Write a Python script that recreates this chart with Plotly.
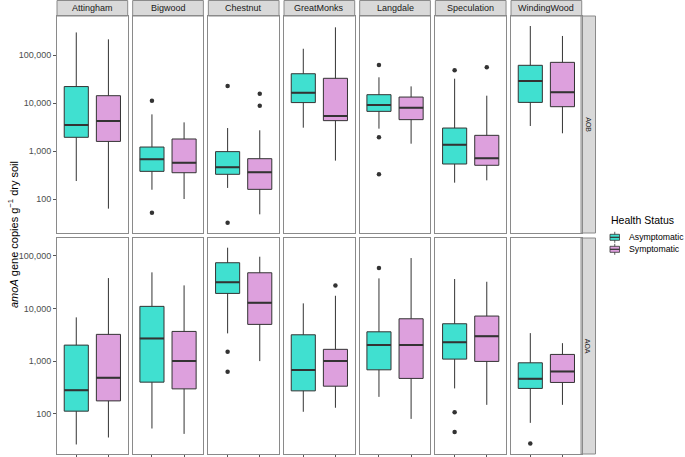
import plotly.graph_objects as go

W, H = 685, 457

sites = ["Attingham", "Bigwood", "Chestnut", "GreatMonks", "Langdale", "Speculation", "WindingWood"]
groups = ["AOB", "AOA"]
status = ["Asymptomatic", "Symptomatic"]
tick_vals = [100, 1000, 10000, 100000]
tick_text = ["100", "1,000", "10,000", "100,000"]

# AOB, Asymptomatic
aob_asym_low = [237, 156, 170, 3060, 2920, 219, 3320]
aob_asym_q1 = [1930, 377, 327, 10200, 6700, 536, 10300]
aob_asym_med = [3500, 670, 457, 16400, 9090, 1355, 28700]
aob_asym_q3 = [22000, 1210, 970, 40700, 14900, 3010, 61000]
aob_asym_high = [295000, 5800, 3010, 135000, 34300, 32100, 402000]
aob_asym_out = [[], [11200, 52], [22600, 32], [], [61900, 1930, 327], [48000], []]

# AOB, Symptomatic
aob_sym_low = [63, 100, 48, 630, 1420, 245, 2340]
aob_sym_q1 = [1585, 353, 159, 4290, 4500, 504, 8380]
aob_sym_med = [4220, 571, 360, 5360, 8000, 703, 16700]
aob_sym_q3 = [14200, 1780, 692, 32700, 13300, 2120, 70300]
aob_sym_high = [212000, 3950, 2700, 377000, 22200, 14200, 249000]
aob_sym_out = [[], [], [15600, 8800], [], [], [55300], []]

# AOA, Asymptomatic
aoa_asym_low = [26.4, 53, 3370, 110, 211, 305, 67.8]
aoa_asym_q1 = [113, 401, 19300, 274, 687, 1096, 305]
aoa_asym_med = [283, 2710, 31300, 678, 2020, 2280, 463]
aoa_asym_q3 = [2020, 10960, 73600, 3170, 3610, 5130, 933]
aoa_asym_high = [6780, 48400, 142000, 12500, 37200, 36200, 3410]
aoa_asym_out = [[], [], [1510, 631], [], [58500], [108, 45.7], [27.5]]

# AOA, Symptomatic
aoa_sym_low = [35.8, 41.9, 1005, 131, 80.7, 149, 149]
aoa_sym_q1 = [177, 299, 4990, 336, 472, 991, 396]
aoa_sym_med = [484, 1005, 12800, 1005, 2020, 2990, 640]
aoa_sym_q3 = [3230, 3670, 47500, 1680, 6380, 7180, 1345]
aoa_sym_high = [37700, 27400, 95700, 17400, 90400, 32100, 2200]
aoa_sym_out = [[], [], [], [27400], [], [], []]

series = {
    ("AOB", "Asymptomatic"): (aob_asym_low, aob_asym_q1, aob_asym_med, aob_asym_q3, aob_asym_high, aob_asym_out),
    ("AOB", "Symptomatic"): (aob_sym_low, aob_sym_q1, aob_sym_med, aob_sym_q3, aob_sym_high, aob_sym_out),
    ("AOA", "Asymptomatic"): (aoa_asym_low, aoa_asym_q1, aoa_asym_med, aoa_asym_q3, aoa_asym_high, aoa_asym_out),
    ("AOA", "Symptomatic"): (aoa_sym_low, aoa_sym_q1, aoa_sym_med, aoa_sym_q3, aoa_sym_high, aoa_sym_out),
}

fill = {"Asymptomatic": "#40E0D0", "Symptomatic": "#DDA0DD"}
xpos = {"Asymptomatic": 1, "Symptomatic": 2}
BOXW = 0.75
EDGE = "#333333"
BORDER = "#8a8a8a"
FONT = "Liberation Sans, Arial, sans-serif"

# layout geometry (pixels)
panel_left0, panel_step, panel_w = 57.0, 75.67, 70.7
rows_px = [(16.0, 233.0), (238.0, 454.0)]
yranges = [[1.292, 5.8125], [1.241, 5.336]]
strip_x = (581.0, 595.5)

def px_x(p):
    return p / W

def px_y(p):
    return 1 - p / H

fig = go.Figure()
layout = dict()
shapes = []
annotations = []

for r, grp in enumerate(groups):
    for c, site in enumerate(sites):
        k = r * 7 + c + 1
        xa = "x" if k == 1 else f"x{k}"
        ya = "y" if k == 1 else f"y{k}"
        xl = "xaxis" if k == 1 else f"xaxis{k}"
        yl = "yaxis" if k == 1 else f"yaxis{k}"
        left = panel_left0 + c * panel_step
        top, bot = rows_px[r]
        layout[xl] = dict(
            domain=[px_x(left), px_x(left + panel_w)], anchor=ya,
            range=[0.4, 2.6], showgrid=False, zeroline=False,
            showline=True, mirror=True, linecolor=BORDER, linewidth=1,
            tickmode="array", tickvals=[1, 2] if r == 1 else [],
            ticks="outside" if r == 1 else "", ticklen=3, tickcolor="#555555",
            showticklabels=False, fixedrange=True,
        )
        layout[yl] = dict(
            domain=[px_y(bot), px_y(top)], anchor=xa, type="log",
            range=yranges[r], showgrid=False, zeroline=False,
            showline=True, mirror=True, linecolor=BORDER, linewidth=1,
            tickmode="array",
            tickvals=tick_vals if c == 0 else [], ticktext=tick_text if c == 0 else [],
            ticks="outside" if c == 0 else "", ticklen=3, tickcolor="#555555",
            showticklabels=(c == 0),
            tickfont=dict(family=FONT, size=9, color="#4d4d4d"), fixedrange=True,
        )
        for st in status:
            low, q1, med, q3, high, outs = series[(grp, st)]
            xp = xpos[st]
            fig.add_trace(go.Box(
                x=[xp], q1=[q1[c]], median=[med[c]], q3=[q3[c]],
                lowerfence=[low[c]], upperfence=[high[c]],
                width=BOXW, whiskerwidth=0, boxpoints=False,
                fillcolor=fill[st], line=dict(color=EDGE, width=1),
                name=st, legendgroup=st, showlegend=False,
                xaxis=xa, yaxis=ya, hoverinfo="skip",
            ))
            # thicker median line, as in ggplot
            fig.add_trace(go.Scatter(
                x=[xp - BOXW / 2, xp + BOXW / 2], y=[med[c], med[c]],
                mode="lines", line=dict(color=EDGE, width=2),
                showlegend=False, xaxis=xa, yaxis=ya, hoverinfo="skip",
            ))
            if outs[c]:
                fig.add_trace(go.Scatter(
                    x=[xp] * len(outs[c]), y=outs[c], mode="markers",
                    marker=dict(color=EDGE, size=4.5),
                    showlegend=False, xaxis=xa, yaxis=ya, hoverinfo="skip",
                ))

        # top strips
        if r == 0:
            shapes.append(dict(type="rect", xref="paper", yref="paper",
                               x0=px_x(left), x1=px_x(left + panel_w),
                               y0=px_y(top), y1=px_y(0.5),
                               fillcolor="#d9d9d9", line=dict(color=BORDER, width=1), layer="below"))
            annotations.append(dict(text=site, xref="paper", yref="paper",
                                    x=px_x(left + panel_w / 2), y=px_y((top + 0.5) / 2),
                                    showarrow=False, xanchor="center", yanchor="middle",
                                    font=dict(family=FONT, size=9, color="#1a1a1a")))
    # right strips
    top, bot = rows_px[r]
    shapes.append(dict(type="rect", xref="paper", yref="paper",
                       x0=px_x(strip_x[0]), x1=px_x(strip_x[1]),
                       y0=px_y(bot), y1=px_y(top),
                       fillcolor="#d9d9d9", line=dict(color=BORDER, width=1), layer="below"))
    annotations.append(dict(text=grp, xref="paper", yref="paper",
                            x=px_x((strip_x[0] + strip_x[1]) / 2), y=px_y((top + bot) / 2),
                            showarrow=False, textangle=90, xanchor="center", yanchor="middle",
                            font=dict(family=FONT, size=7, color="#1a1a1a")))

annotations.append(dict(text="<i>amoA</i> gene copies g<sup>\u22121</sup> dry soil",
                        xref="paper", yref="paper", x=px_x(13), y=px_y(235),
                        showarrow=False, textangle=-90, xanchor="center", yanchor="middle",
                        font=dict(family=FONT, size=11, color="#000000")))

# legend (ggplot-style keys)
annotations.append(dict(text="Health Status", xref="paper", yref="paper",
                        x=px_x(609), y=px_y(220), showarrow=False,
                        xanchor="left", yanchor="middle",
                        font=dict(family=FONT, size=10.5, color="#000000")))
key_centers = [237.3, 249.3]
for st, cy in zip(status, key_centers):
    kx0, kx1 = 610.0, 619.5
    kxm = (kx0 + kx1) / 2
    shapes.append(dict(type="line", xref="paper", yref="paper",
                       x0=px_x(kxm), x1=px_x(kxm), y0=px_y(cy - 5.5), y1=px_y(cy + 5.5),
                       line=dict(color=EDGE, width=0.8)))
    shapes.append(dict(type="rect", xref="paper", yref="paper",
                       x0=px_x(kx0), x1=px_x(kx1), y0=px_y(cy + 3), y1=px_y(cy - 3),
                       fillcolor=fill[st], line=dict(color=EDGE, width=0.8)))
    shapes.append(dict(type="line", xref="paper", yref="paper",
                       x0=px_x(kx0), x1=px_x(kx1), y0=px_y(cy), y1=px_y(cy),
                       line=dict(color=EDGE, width=1.2)))
    annotations.append(dict(text=st, xref="paper", yref="paper",
                            x=px_x(626.5), y=px_y(cy), showarrow=False,
                            xanchor="left", yanchor="middle",
                            font=dict(family=FONT, size=8.7, color="#000000")))

fig.update_layout(
    width=W, height=H, margin=dict(l=0, r=0, t=0, b=0),
    paper_bgcolor="white", plot_bgcolor="white",
    shapes=shapes, annotations=annotations,
    showlegend=False,
    boxgap=0, boxgroupgap=0,
    **layout,
)

fig.write_html("out.html", config={"displayModeBar": False},
               post_script="document.body.style.margin='0px';document.body.style.padding='0px';")
